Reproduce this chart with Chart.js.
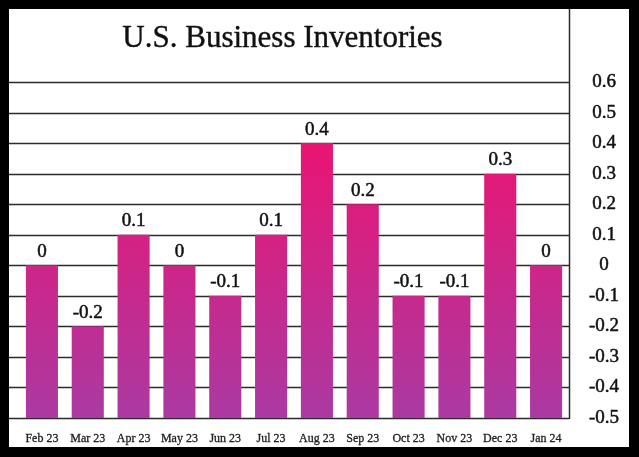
<!DOCTYPE html>
<html>
<head>
<meta charset="utf-8">
<script src="https://cdn.jsdelivr.net/npm/chart.js@4.4.1/dist/chart.umd.min.js"></script>
<style>
  html, body { margin: 0; padding: 0; background: #000; }
  #frame {
    position: absolute; left: 9px; top: 9px; width: 620px; height: 438px;
    background: #fff;
  }
  #title {
    position: absolute; left: 0; top: 10px; width: 547px; text-align: center;
    font-family: "Liberation Serif", serif; font-size: 31px; color: #111;
    -webkit-text-stroke: 0.4px #111;
  }
  #chart { position: absolute; left: 0; top: 0; }
</style>
</head>
<body>
<div id="frame">
  <canvas id="chart" width="620" height="438"></canvas>
  <div id="title">U.S. Business Inventories</div>
</div>
<script>
  // Chart data
  const months = ["Feb 23", "Mar 23", "Apr 23", "May 23", "Jun 23", "Jul 23",
                  "Aug 23", "Sep 23", "Oct 23", "Nov 23", "Dec 23", "Jan 24"];
  const changes = [0, -0.2, 0.1, 0, -0.1, 0.1, 0.4, 0.2, -0.1, -0.1, 0.3, 0];
  const yMin = -0.5;
  const yMax = 0.6;

  const fmt = (v) => (Math.round(v * 10) / 10).toString();

  // Horizontal rules run from the frame's left edge to the right axis
  const rulesPlugin = {
    id: "rules",
    beforeDatasetsDraw(chart) {
      const { ctx, chartArea, scales } = chart;
      const y = scales.y;
      ctx.save();
      ctx.strokeStyle = "#2b2b2b";
      ctx.lineWidth = 1.5;
      y.ticks.forEach((t) => {
        const py = Math.round(y.getPixelForValue(t.value)) + 0.5;
        ctx.beginPath();
        ctx.moveTo(0, py);
        ctx.lineTo(chartArea.right, py);
        ctx.stroke();
      });
      ctx.beginPath();
      ctx.moveTo(chartArea.right + 0.5, 0);
      ctx.lineTo(chartArea.right + 0.5, chartArea.bottom + 1);
      ctx.stroke();
      ctx.restore();
    },
    afterDatasetsDraw(chart) {
      const { ctx } = chart;
      const meta = chart.getDatasetMeta(0);
      ctx.save();
      ctx.font = '19px "Liberation Serif", serif';
      ctx.fillStyle = "#111";
      ctx.strokeStyle = "#111";
      ctx.lineWidth = 0.5;
      ctx.textAlign = "center";
      ctx.textBaseline = "bottom";
      meta.data.forEach((bar, i) => {
        ctx.fillText(fmt(changes[i]), bar.x, bar.y - 4);
        ctx.strokeText(fmt(changes[i]), bar.x, bar.y - 4);
      });
      ctx.restore();
    },
  };

  function barGradient(context) {
    const area = context.chart.chartArea;
    if (!area) return "#d81e7c";
    const g = context.chart.ctx.createLinearGradient(0, area.top, 0, area.bottom);
    g.addColorStop(0, "#f80c68");
    g.addColorStop(1, "#aa3aa2");
    return g;
  }

  new Chart(document.getElementById("chart"), {
    type: "bar",
    data: {
      labels: months,
      datasets: [{
        data: changes,
        base: yMin,
        backgroundColor: barGradient,
        barPercentage: 0.7,
        categoryPercentage: 1,
      }],
    },
    plugins: [rulesPlugin],
    options: {
      responsive: false,
      animation: false,
      layout: { padding: { left: 10, top: 73, right: 0, bottom: 0 } },
      plugins: {
        legend: { display: false },
        tooltip: { enabled: false },
      },
      scales: {
        x: {
          grid: { display: false },
          border: { display: false },
          ticks: {
            color: "#222",
            padding: 6,
            maxRotation: 0,
            textStrokeColor: "#222",
            textStrokeWidth: 0.3,
            font: { family: '"Liberation Serif", serif', size: 12 },
          },
          afterFit(scale) { scale.height = 29; },
        },
        y: {
          position: "right",
          min: yMin,
          max: yMax,
          grid: { display: false },
          border: { display: false },
          ticks: {
            stepSize: 0.1,
            color: "#111",
            padding: 12,
            crossAlign: "center",
            textStrokeColor: "#111",
            textStrokeWidth: 0.5,
            font: { family: '"Liberation Serif", serif', size: 19 },
            callback: (v) => fmt(v),
          },
          afterFit(scale) { scale.width = 60; },
        },
      },
    },
  });
</script>
</body>
</html>
